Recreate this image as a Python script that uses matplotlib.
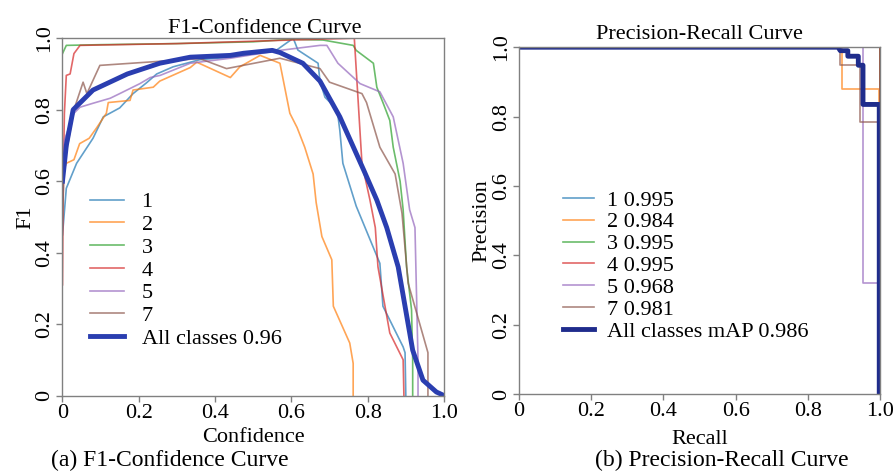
import matplotlib
matplotlib.use('Agg')
from matplotlib import pyplot as plt

plt.rcParams['font.family'] = ['Liberation Serif', 'DejaVu Serif']

# class names and colours (default cycle)
class_names = ['1', '2', '3', '4', '5', '7']
class_colors = ['#1f77b4', '#ff7f0e', '#2ca02c', '#d62728', '#9467bd', '#8c564b']

# F1-confidence curves
c1_x = [0, 0.01, 0.037, 0.08, 0.107, 0.15, 0.185, 0.22, 0.247, 0.29, 0.36, 0.45, 0.56, 0.605,
        0.617, 0.67, 0.675, 0.688, 0.72, 0.727, 0.735, 0.77, 0.832, 0.84, 0.893, 0.898, 0.9]
c1_y = [0.45, 0.58, 0.65, 0.72, 0.78, 0.805, 0.845, 0.875, 0.90, 0.92, 0.94, 0.948, 0.966, 1.0,
        0.967, 0.93, 0.88, 0.835, 0.80, 0.742, 0.65, 0.53, 0.37, 0.25, 0.136, 0.12, 0.0]
c2_x = [0, 0.01, 0.03, 0.045, 0.07, 0.09, 0.115, 0.12, 0.177, 0.185, 0.238, 0.255, 0.335, 0.352,
        0.44, 0.465, 0.518, 0.57, 0.596, 0.615, 0.635, 0.657, 0.665, 0.68, 0.706, 0.71, 0.753,
        0.762, 0.762]
c2_y = [0.62, 0.65, 0.66, 0.705, 0.72, 0.75, 0.79, 0.82, 0.826, 0.855, 0.863, 0.88, 0.918, 0.933,
        0.89, 0.92, 0.952, 0.93, 0.79, 0.75, 0.695, 0.62, 0.54, 0.445, 0.38, 0.25, 0.147,
        0.09, 0.0]
c3_x = [0, 0.01, 0.1, 0.3, 0.5, 0.6, 0.683, 0.762, 0.77, 0.815, 0.824, 0.84, 0.858, 0.867, 0.885,
        0.893, 0.902, 0.915, 0.918, 0.918]
c3_y = [0.957, 0.98, 0.982, 0.985, 0.99, 0.997, 0.995, 0.98, 0.966, 0.93, 0.863, 0.82, 0.77, 0.695,
        0.60, 0.52, 0.36, 0.24, 0.1, 0.0]
c4_x = [0, 0.002, 0.005, 0.01, 0.02, 0.03, 0.046, 0.3, 0.6, 0.765, 0.785, 0.806, 0.82, 0.827,
        0.858, 0.893, 0.895]
c4_y = [0.31, 0.6, 0.79, 0.896, 0.9, 0.957, 0.98, 0.985, 0.995, 1.0, 0.65, 0.547, 0.47, 0.36,
        0.175, 0.10, 0.0]
c5_x = [0, 0.005, 0.03, 0.046, 0.08, 0.125, 0.15, 0.203, 0.23, 0.256, 0.335, 0.44, 0.57, 0.675,
        0.693, 0.722, 0.78, 0.832, 0.867, 0.893, 0.91, 0.924, 0.932, 0.932]
c5_y = [0.55, 0.715, 0.79, 0.807, 0.818, 0.832, 0.845, 0.873, 0.89, 0.896, 0.93, 0.944, 0.966, 0.98,
        0.98, 0.93, 0.873, 0.85, 0.78, 0.65, 0.52, 0.47, 0.1, 0.0]
c7_x = [0, 0.005, 0.03, 0.054, 0.064, 0.098, 0.36, 0.43, 0.57, 0.675, 0.70, 0.785, 0.797, 0.832,
        0.872, 0.89, 0.906, 0.958, 0.958]
c7_y = [0.5, 0.65, 0.8, 0.877, 0.845, 0.924, 0.943, 0.915, 0.944, 0.915, 0.877, 0.845, 0.82, 0.695,
        0.62, 0.51, 0.315, 0.12, 0.0]
f1_all_x = [0, 0.01, 0.028, 0.08, 0.17, 0.255, 0.335, 0.44, 0.475, 0.55, 0.57, 0.63, 0.675, 0.727,
            0.79, 0.824, 0.85, 0.88, 0.918, 0.945, 0.98, 1.0]
f1_all_y = [0.6, 0.7, 0.80, 0.855, 0.90, 0.93, 0.947, 0.952, 0.958, 0.966, 0.96, 0.93, 0.88, 0.78,
            0.63, 0.547, 0.47, 0.36, 0.127, 0.043, 0.01, 0.0]
f1_all_label = 'All classes 0.96'

# precision-recall curves
ap_values = ['0.995', '0.984', '0.995', '0.995', '0.968', '0.981']
p1_r = [0, 1.0, 1.0]
p1_p = [1, 1, 0]
p2_r = [0, 0.895, 0.895, 0.998, 0.998]
p2_p = [1, 1, 0.88, 0.88, 0]
p3_r = [0, 1.0, 1.0]
p3_p = [1, 1, 0]
p4_r = [0, 0.999, 0.999]
p4_p = [1, 1, 0]
p5_r = [0, 0.953, 0.953, 0.998, 0.998]
p5_p = [1, 1, 0.32, 0.32, 0]
p7_r = [0, 0.889, 0.889, 0.945, 0.945, 0.995, 0.995]
p7_p = [1, 1, 0.948, 0.948, 0.784, 0.784, 0]
pr_all_r = [0, 0.884, 0.89, 0.911, 0.911, 0.94, 0.94, 0.953, 0.953, 0.998, 0.998]
pr_all_p = [1, 1, 0.99, 0.99, 0.974, 0.974, 0.948, 0.948, 0.835, 0.835, 0]
pr_all_label = 'All classes mAP 0.986'

ticks = [0, 0.2, 0.4, 0.6, 0.8, 1.0]
tick_labels = ['0', '0.2', '0.4', '0.6', '0.8', '1.0']


def style_axes(ax):
    for s in ax.spines.values():
        s.set_color('#808080')
        s.set_linewidth(1.0)
    ax.set_xlim(0, 1)
    ax.set_ylim(0, 1)
    ax.set_xticks(ticks)
    ax.set_xticklabels(tick_labels)
    ax.set_yticks(ticks)
    ax.set_yticklabels(tick_labels, rotation=90, va='center')
    ax.tick_params(colors='#808080', labelcolor='black', labelsize=16, length=4, width=1, pad=2)


fig = plt.figure(figsize=(8.94, 4.72), dpi=100)

# (a) F1-confidence
ax1 = fig.add_axes([0.0699, 0.162, 0.4267, 0.757])
style_axes(ax1)
f1_x = [c1_x, c2_x, c3_x, c4_x, c5_x, c7_x]
f1_y = [c1_y, c2_y, c3_y, c4_y, c5_y, c7_y]
for xs, ys, name, col in zip(f1_x, f1_y, class_names, class_colors):
    ax1.plot(xs, ys, color=col, linewidth=1.2, alpha=0.7, label=name)
ax1.plot(f1_all_x, f1_all_y, color='#2a3eb0', linewidth=3.5, label=f1_all_label)
ax1.set_xlabel('Confidence', fontsize=16, labelpad=4)
ax1.set_ylabel('F1', fontsize=16, labelpad=0)
ax1.set_title('F1-Confidence Curve', fontsize=16, x=0.53, pad=4)
ax1.legend(loc='upper left', bbox_to_anchor=(0.05, 0.595), frameon=False, fontsize=16,
           handlelength=1.5, labelspacing=0.1, borderaxespad=0, handletextpad=0.8)

# (b) precision-recall
ax2 = fig.add_axes([0.5805, 0.165, 0.4038, 0.735])
style_axes(ax2)
pr_r = [p1_r, p2_r, p3_r, p4_r, p5_r, p7_r]
pr_p = [p1_p, p2_p, p3_p, p4_p, p5_p, p7_p]
for rs, ps, name, ap, col in zip(pr_r, pr_p, class_names, ap_values, class_colors):
    ax2.plot(rs, ps, color=col, linewidth=1.2, alpha=0.7, label=name + ' ' + ap)
ax2.plot(pr_all_r, pr_all_p, color='#1f2c8c', linewidth=3.5, label=pr_all_label)
ax2.set_xlabel('Recall', fontsize=16, labelpad=6)
ax2.set_ylabel('Precision', fontsize=16, labelpad=0)
ax2.set_title('Precision-Recall Curve', fontsize=16, pad=6)
ax2.legend(loc='upper left', bbox_to_anchor=(0.097, 0.614), frameon=False, fontsize=16,
           handlelength=1.4, labelspacing=0.06, borderaxespad=0, handletextpad=0.6)

fig.text(170 / 894, 1 - 460 / 472, '(a) F1-Confidence Curve', fontsize=17, ha='center', va='center')
fig.text(722 / 894, 1 - 460 / 472, '(b) Precision-Recall Curve', fontsize=17, ha='center', va='center')

fig.savefig('out.png', dpi=100)
